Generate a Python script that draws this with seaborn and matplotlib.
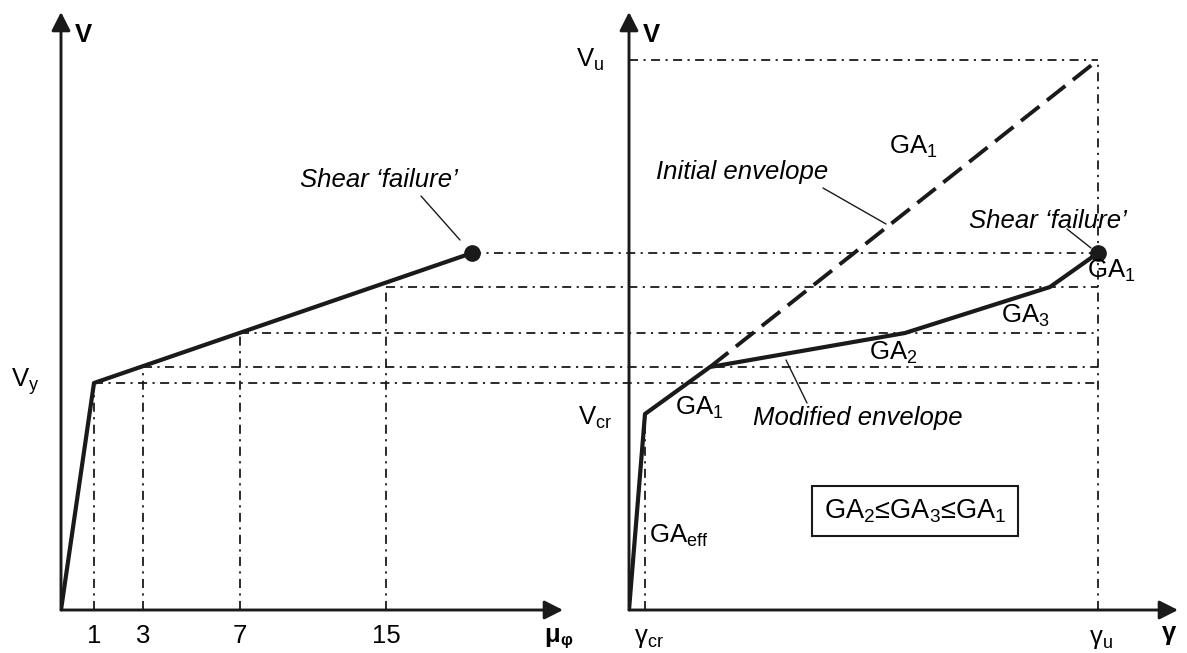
import numpy as np
import pandas as pd
import matplotlib.pyplot as plt
import seaborn as sns

# schematic units, 1 unit ~ 1 px of the drawing, origin at each panel's axes corner
# left panel: V vs curvature ductility
mu_labels = ['1', '3', '7', '15']
mu_pos = [33, 82, 179, 325]
v_levels = [227, 243, 277, 323]          # V reached at mu = 1, 3, 7, 15
left_curve_x = [0, 33, 411]
left_curve_y = [0, 227, 357]
fail_left = (411, 357)

# right panel: V vs shear strain
gamma_env = [0, 16, 81, 276, 421, 469]
v_env = [0, 196, 243, 277, 323, 357]
initial_x = [81, 469]
initial_y = [243, 550]
gamma_cr, v_cr = 16, 196
gamma_u, v_u = 469, 550
panel_gap = 568                          # right origin relative to left origin

W, H = 1187, 653
sns.set_theme(style='white')
plt.rcParams['font.family'] = ['Liberation Sans', 'DejaVu Sans']
plt.rcParams['mathtext.default'] = 'regular'
plt.rcParams['text.color'] = 'black'

fig = plt.figure(figsize=(W / 100, H / 100), dpi=100)
axL = fig.add_axes([61 / W, 43 / H, 502 / W, 598 / H])
axR = fig.add_axes([629 / W, 43 / H, 549 / W, 598 / H])

dashdot = (0, (5, 3, 1.2, 3))
fs = 18.5
arrow = dict(arrowstyle='-|>,head_length=0.75,head_width=0.38', color='k', lw=2.1,
             shrinkA=0, shrinkB=0, mutation_scale=15)

for ax, xmax in ((axL, 502), (axR, 549)):
    ax.set_xlim(0, xmax)
    ax.set_ylim(0, 598)
    ax.axis('off')
    ax.patch.set_visible(False)
    ax.annotate('', xy=(0, 598), xytext=(0, 0), arrowprops=arrow, annotation_clip=False)
    ax.annotate('', xy=(xmax, 0), xytext=(0, 0), arrowprops=arrow, annotation_clip=False)
    ax.text(22, 575, 'V', fontsize=fs, fontweight='bold', ha='center', va='center')

# left panel
for x, v in zip(mu_pos, v_levels):
    axL.plot([x, x], [0, v], color='k', lw=1.3, ls=dashdot, clip_on=False)
    axL.plot([x, panel_gap + gamma_u], [v, v], color='k', lw=1.3, ls=dashdot, clip_on=False)
axL.plot([fail_left[0], panel_gap + gamma_u], [fail_left[1]] * 2, color='k', lw=1.3,
         ls=dashdot, clip_on=False)
left_df = pd.DataFrame({'mu': left_curve_x, 'V': left_curve_y})
sns.lineplot(data=left_df, x='mu', y='V', sort=False, color='k', lw=3, ax=axL)
axL.plot(*fail_left, 'o', color='k', ms=11, clip_on=False)

for x, lab in zip(mu_pos, mu_labels):
    axL.text(x, -26, lab, fontsize=fs, ha='center', va='center')
axL.text(-36, 228, 'V$_y$', fontsize=fs, ha='center', va='center')
axL.text(491, -25, 'μ', fontsize=fs, fontweight='bold', ha='center', va='center')
axL.text(505, -30, 'φ', fontsize=12, fontweight='bold', ha='center', va='center')
axL.text(318, 430, 'Shear \u2018failure\u2019', fontsize=fs, style='italic', ha='center', va='center')
axL.plot([360, 399], [414, 370], color='k', lw=1)

# right panel
axR.plot([gamma_cr, gamma_cr], [0, v_cr], color='k', lw=1.3, ls=dashdot)
axR.plot([0, gamma_u], [v_u, v_u], color='k', lw=1.3, ls=dashdot)
axR.plot([gamma_u, gamma_u], [0, v_u], color='k', lw=1.3, ls=dashdot)
axR.plot(initial_x, initial_y, color='k', lw=2.8, ls=(0, (6, 2.5)), dash_capstyle='butt')
right_df = pd.DataFrame({'gamma': gamma_env, 'V': v_env})
sns.lineplot(data=right_df, x='gamma', y='V', sort=False, color='k', lw=3, ax=axR)
axR.plot(gamma_env[-1], v_env[-1], 'o', color='k', ms=11, clip_on=False)

axR.text(-39, 550, 'V$_u$', fontsize=fs, ha='center', va='center')
axR.text(-34, 192, 'V$_{cr}$', fontsize=fs, ha='center', va='center')
axR.text(113, 438, 'Initial envelope', fontsize=fs, style='italic', ha='center', va='center')
axR.plot([194, 257], [422, 386], color='k', lw=1)
axR.text(284, 463, 'GA$_1$', fontsize=fs, ha='center', va='center')
axR.text(419, 389, 'Shear \u2018failure\u2019', fontsize=fs, style='italic', ha='center', va='center')
axR.plot([438, 462], [381, 362], color='k', lw=1)
axR.text(458, 339, 'GA$_1$', fontsize=fs, ha='left', va='center')
axR.text(396, 294, 'GA$_3$', fontsize=fs, ha='center', va='center')
axR.text(264, 257, 'GA$_2$', fontsize=fs, ha='center', va='center')
axR.text(70, 202, 'GA$_1$', fontsize=fs, ha='center', va='center')
axR.text(229, 192, 'Modified envelope', fontsize=fs, style='italic', ha='center', va='center')
axR.plot([157, 178], [250, 207], color='k', lw=1)
axR.text(20, 74, 'GA$_{eff}$', fontsize=fs, ha='left', va='center')
axR.text(286, 99, 'GA$_2$\u2264GA$_3$\u2264GA$_1$', fontsize=19.5, ha='center', va='center',
         bbox=dict(boxstyle='square,pad=0.42', fc='white', ec='k', lw=1.5))
axR.text(20, -28, '\u03b3$_{cr}$', fontsize=fs, ha='center', va='center')
axR.text(472, -29, '\u03b3$_u$', fontsize=fs, ha='center', va='center')
axR.text(540, -23, '\u03b3', fontsize=fs, fontweight='bold', ha='center', va='center')

fig.savefig('out.png', dpi=100)
